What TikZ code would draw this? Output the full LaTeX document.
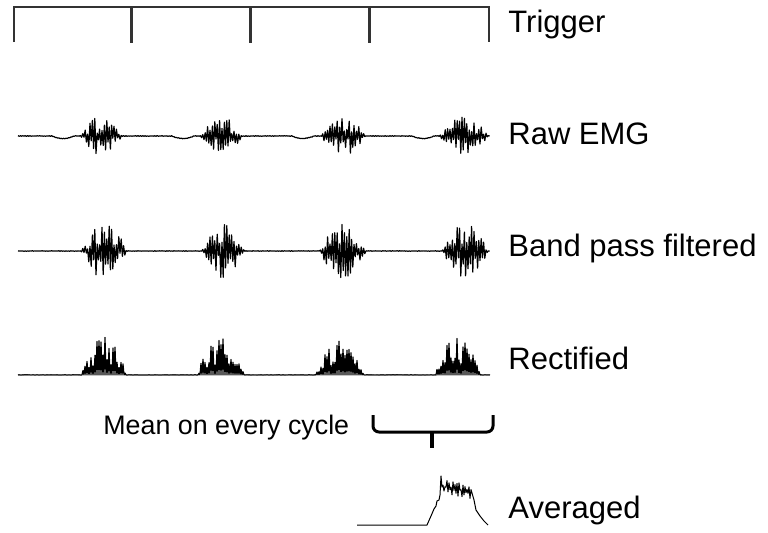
\documentclass[tikz,border=0pt]{standalone}
\usepackage{fontspec}
\setmainfont{Liberation Sans}
\usetikzlibrary{calc}

\begin{document}
\begin{tikzpicture}[x=0.5pt,y=-0.5pt,
  declare function={win(\x,\c,\w)=max(0,1-((\x-\c)/\w)^2);
    zig(\i)=2*mod(round(\i),2)-1;
    odd(\i)=mod(round(\i),2);
    xs(\i)=18+1.2*\i;},
  lbl/.style={anchor=base west,inner sep=0pt,font=\fontsize{15.5}{18}\selectfont},
  sig/.style={line width=0.6pt,line join=round},
  trig/.style={line width=0.8pt,black!80,line join=miter}]
  \useasboundingbox (0,0) rectangle (768,532);
  \pgfmathsetseed{11}

  \draw[trig] (14,42) -- (14,7) %
    foreach \p in {131,250,369} { -- (\p,7) -- (\p,42) -- (\p+1.5,42) -- (\p+1.5,7) } %
    -- (489,7) -- (489,42);

  \draw[sig] plot[domain=0:393,samples=394,variable=\i] %
    ({xs(\i)},{136+2.5*(win(xs(\i),63,11)+win(xs(\i),183,11)+win(xs(\i),303,11)+win(xs(\i),423,11)) %
      +(0.4+19*(win(xs(\i),101,21)+win(xs(\i),221,21)+win(xs(\i),343,22)+win(xs(\i),464,24)))*zig(\i)*(0.15+0.85*rnd)});

  \draw[sig] plot[domain=0:393,samples=394,variable=\i] %
    ({xs(\i)},{251+(0.3+27*(win(xs(\i),104,23)+win(xs(\i),223,21)+win(xs(\i),343,23)+win(xs(\i),465,23)))*zig(\i)*(0.15+0.85*rnd)});

  \draw[sig] plot[domain=0:472,samples=473,variable=\i] %
    ({18+\i},{375-(0.3+38*(win(18+\i,104,23)+win(18+\i,221,24)+win(18+\i,340,24)+win(18+\i,458,23)))*odd(\i)*(0.25+0.75*rnd)});

  \coordinate (bl) at (373,415);
  \coordinate (br) at (493,415);
  \coordinate (bm) at ($(bl)!0.5!(br)+(0,17)$);
  \draw[line width=1.5pt,rounded corners=3pt] %
    (bl) -- (bl|-bm) -- (br|-bm) -- (br);
  \draw[line width=1.7pt] (432,432) -- (432,448);

  \draw[line width=0.5pt,line join=round] (357,525) -- (427,525) -- (431,516) -- (434,509) -- (436,506) %
    -- (437,501) -- (439,500) -- (440,495) -- (441,476) %
    -- plot[domain=1:30,samples=30,variable=\i] ({441+\i},{486+0.2*\i+zig(\i)*7*rnd}) %
    -- (474,500) -- (476,510) -- (480,516) -- (484,521) -- (488,525);

  \node[lbl] (trigger) at (508,32) {Trigger};
  \node[lbl] (raw) at (508,144) {Raw EMG};
  \node[lbl] (band) at (508,256) {Band pass filtered};
  \node[lbl] (rect) at (508,369) {Rectified};
  \node[lbl,font=\fontsize{13.4}{16}\selectfont] (mean) at (103,434) {Mean on every cycle};
  \node[lbl] (avg) at (508,518) {Averaged};
\end{tikzpicture}
\end{document}
